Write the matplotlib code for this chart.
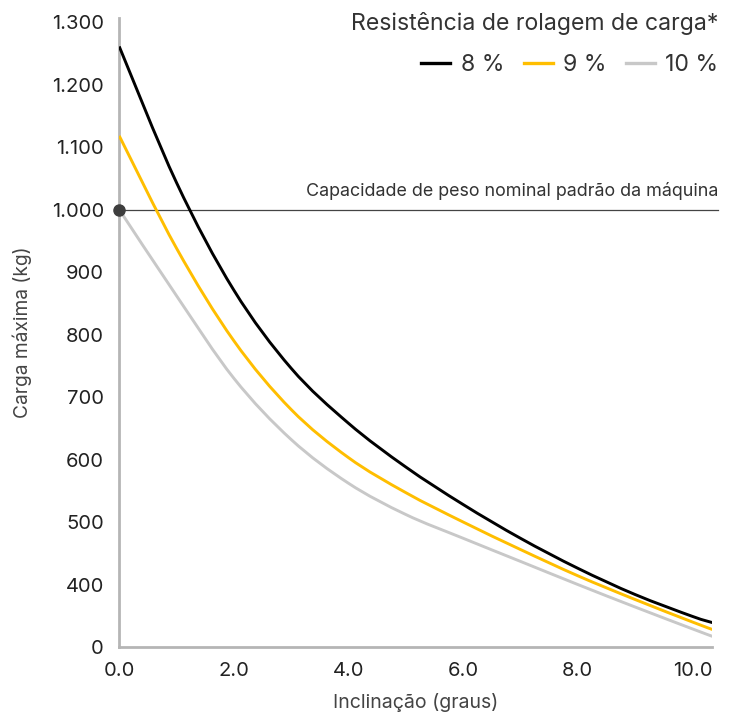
import numpy as np
import matplotlib.pyplot as plt
from matplotlib.path import Path
from matplotlib.patches import PathPatch
from matplotlib.lines import Line2D

plt.rcParams['font.family'] = ['Inter', 'DejaVu Sans']

# inclinação (graus) e carga máxima lida do gráfico
# o eixo y é comprimido: a posição 300 aparece rotulada como "0"
inclinacao = [0, 1, 2, 3, 4, 5, 6, 7, 8, 9, 10, 10.35]
carga_8 = [1261, 1043, 871, 746, 658, 588, 528, 474, 426, 384, 349, 339]
carga_9 = [1118, 938, 790, 680, 603, 547, 500, 456, 414, 376, 340, 328]
carga_10 = [1000, 862, 730, 632, 562, 512, 474, 437, 400, 364, 329, 317]

series = [('8 %', carga_8, '#000000'), ('9 %', carga_9, '#FFBE00'), ('10 %', carga_10, '#C8C8C8')]

yticks = [300, 400, 500, 600, 700, 800, 900, 1000, 1100, 1200, 1300]
ylabels = ['0', '400', '500', '600', '700', '800', '900', '1.000', '1.100', '1.200', '1.300']
xticks = [0, 2, 4, 6, 8, 10]
xlabels = ['0.0', '2.0', '4.0', '6.0', '8.0', '10.0']

capacidade = 1000


def linha_suave(xs, ys):
    # linha suavizada (estilo "linha suave" do Excel) passando pelos pontos
    p = np.column_stack([xs, ys]).astype(float)
    n = len(p)
    verts = [p[0]]
    codes = [Path.MOVETO]
    for i in range(n - 1):
        p0 = p[i - 1] if i > 0 else p[i]
        p3 = p[i + 2] if i + 2 < n else p[i + 1]
        c1 = p[i] + (p[i + 1] - p0) / 6
        c2 = p[i + 1] - (p3 - p[i]) / 6
        verts += [c1, c2, p[i + 1]]
        codes += [Path.CURVE4] * 3
    return Path(verts, codes)


fig = plt.figure(figsize=(7.36, 7.2), dpi=100)
ax = fig.add_axes([0.162, 0.1014, 0.806, 0.874])

handles = []
for z, (nome, vals, cor) in enumerate(series):
    ax.add_patch(PathPatch(linha_suave(inclinacao, vals), fill=False, edgecolor=cor,
                           lw=2.1, zorder=4 - z, capstyle='butt'))
    handles.append(Line2D([], [], color=cor, lw=2.4, label=nome))

ax.plot([0, 10.45], [capacidade, capacidade], color='#444444', lw=0.9, clip_on=False, zorder=1)
ax.plot([0], [capacidade], 'o', color='#3d3d3d', ms=8, clip_on=False, zorder=5)
ax.text(10.45, capacidade + 15, 'Capacidade de peso nominal padrão da máquina',
        ha='right', va='bottom', fontsize=12.9, color='#333333')

ax.set_xlim(0, 10.35)
ax.set_ylim(300, 1307)
ax.set_xticks(xticks)
ax.set_xticklabels(xlabels)
ax.set_yticks(yticks)
ax.set_yticklabels(ylabels)
ax.tick_params(length=0, labelsize=14.5, colors='#222222', pad=11)

for s in ['top', 'right']:
    ax.spines[s].set_visible(False)
for s in ['left', 'bottom']:
    ax.spines[s].set_color('#b5b5b5')
    ax.spines[s].set_linewidth(2)

ax.set_xlabel('Inclinação (graus)', fontsize=14, color='#444444', labelpad=9)
ax.set_ylabel('Carga máxima (kg)', fontsize=13.8, color='#444444', labelpad=14)

leg = ax.legend(handles=handles, loc='upper right', bbox_to_anchor=(0.976, 0.984),
                bbox_transform=fig.transFigure, ncol=3, frameon=False,
                title='Resistência de rolagem de carga*',
                fontsize=16.6, title_fontsize=16.6, handlelength=1.25, handletextpad=0.45,
                columnspacing=0.85, borderaxespad=0, borderpad=0, labelspacing=0.85)
leg._legend_box.align = 'right'
for t in leg.get_texts():
    t.set_color('#333333')
leg.get_title().set_color('#333333')

plt.savefig('out.png', dpi=100)
